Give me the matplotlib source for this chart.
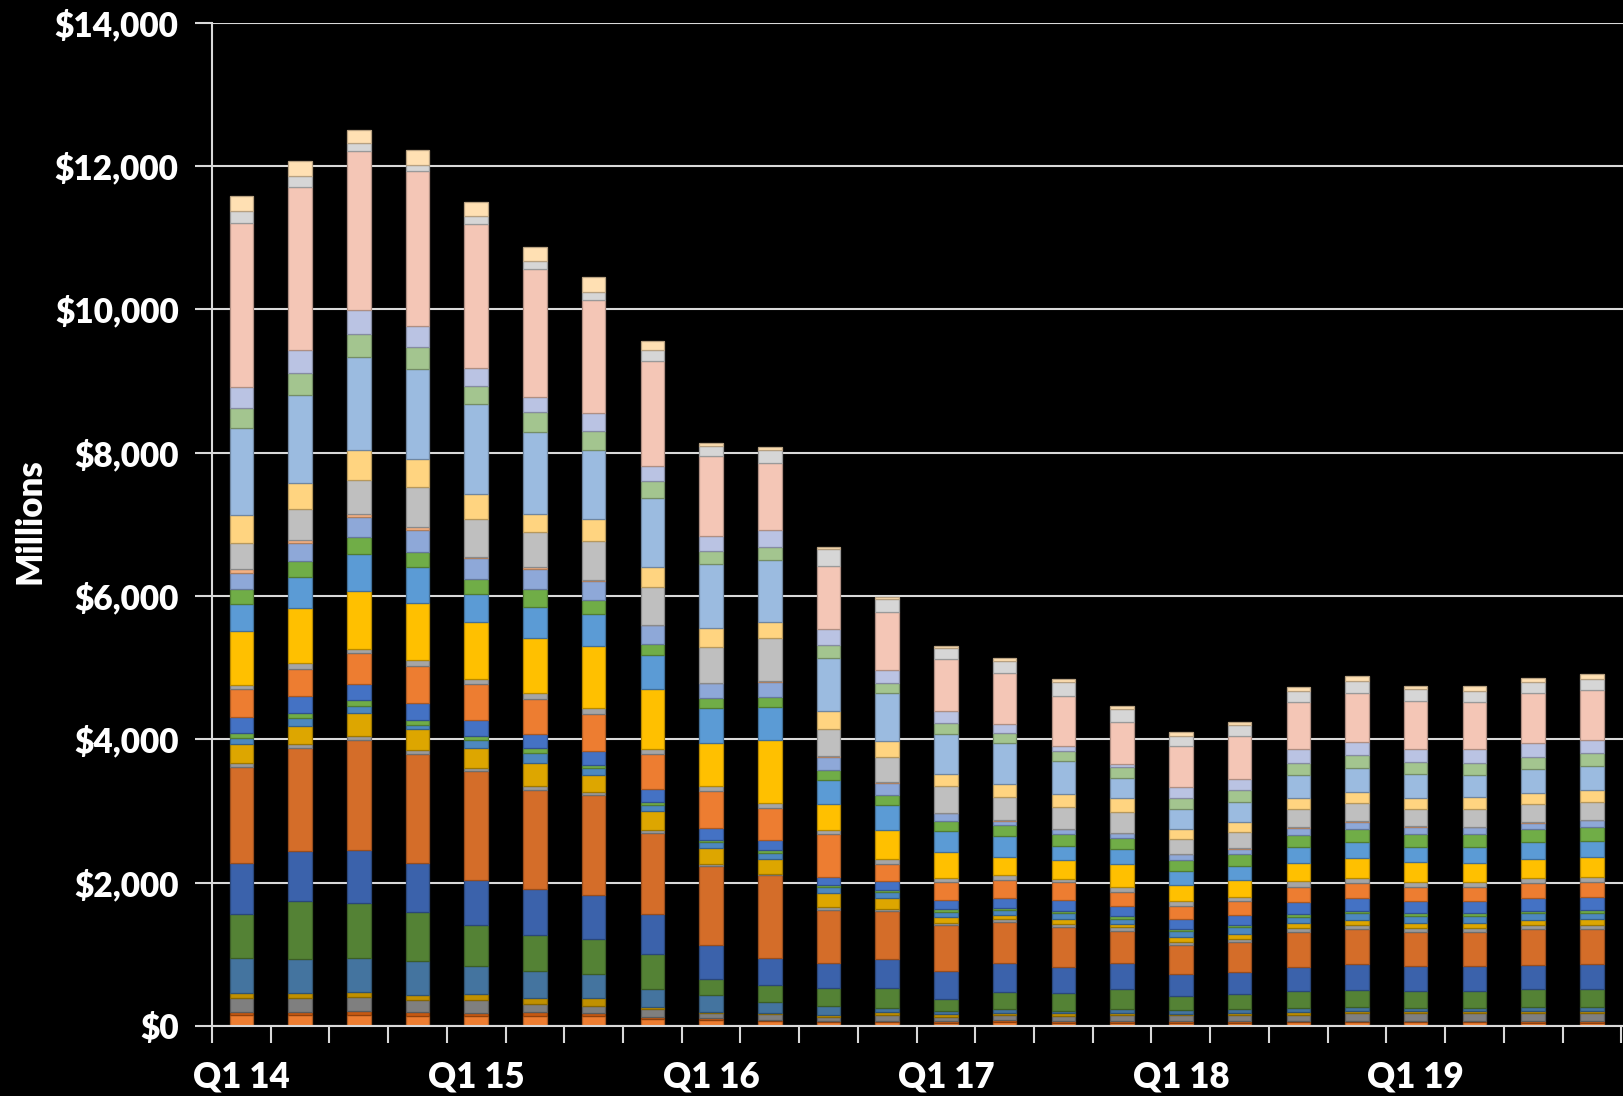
import matplotlib
matplotlib.use("Agg")
import matplotlib.pyplot as plt
import matplotlib.colors as mcolors
from matplotlib.ticker import FuncFormatter, FixedLocator
import numpy as np

plt.rcParams['font.family'] = ['Lato', 'DejaVu Sans']

quarters = ["Q1 14", "Q2 14", "Q3 14", "Q4 14", "Q1 15", "Q2 15", "Q3 15", "Q4 15",
            "Q1 16", "Q2 16", "Q3 16", "Q4 16", "Q1 17", "Q2 17", "Q3 17", "Q4 17",
            "Q1 18", "Q2 18", "Q3 18", "Q4 18", "Q1 19", "Q2 19", "Q3 19", "Q4 19"]

# stacked series, bottom to top (values in $ millions)
s01 = [153, 153, 154, 138, 138, 142, 135, 98, 84, 63, 52, 52, 47, 60, 47, 47, 47, 47, 51, 51, 56, 56, 47, 47]
s02 = [47, 47, 48, 56, 48, 57, 43, 32, 23, 21, 21, 21, 16, 24, 23, 23, 18, 18, 19, 19, 14, 14, 23, 23]
s03 = [186, 195, 203, 170, 178, 114, 107, 107, 78, 84, 53, 84, 68, 65, 70, 79, 84, 84, 88, 107, 116, 116, 107, 107]
s04 = [70, 61, 65, 73, 81, 71, 99, 33, 15, 16, 31, 32, 32, 28, 37, 32, 23, 28, 42, 37, 19, 19, 37, 37]
s05 = [488, 474, 477, 470, 389, 378, 335, 251, 233, 152, 126, 68, 42, 56, 32, 52, 51, 56, 56, 56, 51, 51, 46, 56]
s06 = [619, 819, 770, 680, 575, 512, 498, 484, 223, 236, 252, 278, 173, 246, 247, 288, 200, 209, 232, 232, 232, 232, 252, 242]
s07 = [707, 698, 745, 680, 623, 633, 612, 553, 474, 383, 342, 394, 383, 395, 372, 353, 298, 307, 340, 358, 349, 349, 339, 348]
s08 = [1339, 1437, 1522, 1522, 1531, 1388, 1388, 1130, 1107, 1145, 735, 672, 641, 582, 558, 456, 414, 428, 484, 489, 479, 479, 498, 498]
s09 = [56, 46, 65, 57, 40, 57, 43, 47, 23, 26, 42, 37, 36, 32, 37, 47, 37, 42, 55, 56, 51, 51, 56, 51]
s10 = [265, 261, 323, 292, 276, 321, 235, 265, 228, 210, 204, 147, 84, 56, 75, 51, 75, 65, 75, 74, 75, 75, 74, 79]
s11 = [84, 111, 98, 56, 105, 142, 99, 84, 75, 79, 79, 84, 74, 75, 74, 70, 79, 93, 84, 93, 98, 98, 93, 93]
s12 = [70, 61, 73, 73, 65, 57, 50, 46, 32, 36, 32, 26, 31, 32, 33, 37, 32, 28, 41, 37, 32, 32, 33, 38]
s13 = [232, 246, 226, 243, 226, 199, 199, 172, 163, 142, 115, 126, 126, 130, 153, 144, 140, 144, 168, 172, 168, 168, 176, 176]
s14 = [382, 372, 429, 510, 494, 498, 513, 489, 521, 446, 588, 241, 252, 256, 247, 195, 181, 191, 209, 210, 204, 204, 210, 219]
s15 = [65, 79, 65, 81, 73, 79, 78, 69, 70, 69, 58, 63, 63, 65, 51, 61, 61, 60, 75, 79, 70, 70, 69, 70]
s16 = [753, 768, 810, 802, 794, 768, 868, 847, 595, 876, 372, 405, 357, 261, 260, 321, 232, 237, 260, 270, 270, 265, 270, 279]
s17 = [368, 442, 518, 502, 396, 435, 449, 465, 498, 462, 331, 357, 299, 288, 200, 214, 191, 200, 223, 232, 218, 223, 233, 223]
s18 = [218, 214, 227, 202, 203, 249, 199, 154, 134, 147, 142, 131, 132, 149, 163, 158, 153, 158, 168, 177, 182, 177, 181, 186]
s19 = [224, 256, 283, 316, 291, 277, 264, 265, 205, 205, 184, 178, 110, 65, 70, 60, 79, 79, 97, 102, 97, 93, 93, 98]
s20 = [46, 46, 41, 41, 17, 29, 14, 10, 5, 16, 5, 3, 3, 3, 3, 3, 3, 3, 3, 3, 3, 3, 3, 3]
s21 = [368, 428, 477, 558, 526, 484, 534, 526, 497, 603, 378, 349, 375, 323, 299, 300, 216, 225, 253, 253, 239, 248, 253, 251]
s22 = [386, 367, 413, 389, 356, 256, 306, 279, 270, 226, 257, 226, 168, 181, 182, 190, 139, 149, 163, 163, 163, 167, 163, 172]
s23 = [1223, 1224, 1304, 1255, 1247, 1146, 975, 962, 889, 861, 740, 666, 567, 581, 469, 279, 280, 279, 312, 335, 326, 312, 335, 326]
s24 = [279, 311, 316, 308, 259, 270, 256, 242, 181, 178, 179, 147, 147, 131, 140, 149, 144, 158, 167, 172, 172, 172, 167, 186]
s25 = [288, 321, 332, 291, 251, 214, 256, 210, 219, 242, 215, 184, 168, 130, 65, 47, 158, 159, 195, 190, 186, 186, 195, 186]
s26 = [2289, 2270, 2227, 2162, 2008, 1779, 1573, 1460, 1106, 924, 882, 798, 724, 707, 702, 591, 577, 604, 666, 684, 665, 665, 689, 688]
s27 = [162, 153, 113, 81, 114, 114, 114, 158, 145, 194, 236, 184, 158, 177, 186, 172, 139, 144, 153, 168, 163, 153, 153, 163]
s28 = [214, 205, 178, 211, 194, 206, 206, 116, 46, 42, 37, 37, 31, 42, 42, 51, 47, 47, 56, 60, 51, 65, 65, 65]

series = [s01, s02, s03, s04, s05, s06, s07, s08, s09, s10, s11, s12, s13, s14,
          s15, s16, s17, s18, s19, s20, s21, s22, s23, s24, s25, s26, s27, s28]

colors = ['#ED7D31', '#C65911', '#7F7F7F', '#C09000', '#44749F', '#548235', '#3B62AB',
          '#D46D29', '#9A9A9A', '#DDA600', '#4D88BF', '#70AD47', '#4472C4', '#ED7D31',
          '#A5A5A5', '#FFC000', '#5B9BD5', '#70AD47', '#8EA8D8', '#F4B183', '#BFBFBF',
          '#FFD480', '#9BBBE0', '#A3C58F', '#BAC3E3', '#F4C6B6', '#D6D6D6', '#FFE0B3']

fig = plt.figure(figsize=(16.23, 10.96), dpi=100, facecolor='black')
ax = fig.add_axes([0.1306, 0.0639, 0.8694, 0.9155], facecolor='black')

x = np.arange(len(quarters))
bottom = np.zeros(len(quarters))
for vals, c in zip(series, colors):
    rgb = np.array(mcolors.to_rgb(c))
    edge = tuple(rgb * 0.72)
    ax.bar(x, vals, width=0.4, bottom=bottom, color=c, edgecolor=edge,
           linewidth=0.9, zorder=3)
    bottom += np.array(vals)

ax.set_xlim(-0.5, 23.53)
ax.set_ylim(0, 14000)
ax.set_yticks(np.arange(0, 14001, 2000))
ax.yaxis.set_major_formatter(FuncFormatter(lambda v, p: "${:,.0f}".format(v)))
ax.grid(axis='y', color='#D9D9D9', linewidth=1.5, zorder=0)

# x ticks at category boundaries, labels every fourth quarter
ax.xaxis.set_major_locator(FixedLocator(np.arange(-0.5, 24, 1.0)))
ax.set_xticklabels([])
label_pos = x[::4]
ax.set_xticks(label_pos, minor=True)
ax.set_xticklabels([quarters[i] for i in label_pos], minor=True)
ax.tick_params(axis='x', which='major', length=12, width=1.5, color='#D9D9D9')
ax.tick_params(axis='x', which='minor', length=0, pad=25, labelsize=25,
               labelcolor='white')
for t in ax.get_xticklabels(minor=True):
    t.set_fontweight('heavy')
ax.tick_params(axis='y', length=12, width=1.5, color='#D9D9D9', labelsize=24,
               labelcolor='white', pad=12)
for t in ax.get_yticklabels():
    t.set_fontweight('heavy')

for side in ['top', 'right']:
    ax.spines[side].set_visible(False)
for side in ['left', 'bottom']:
    ax.spines[side].set_color('#D9D9D9')
    ax.spines[side].set_linewidth(1.5)
    ax.spines[side].set_zorder(4)

ax.set_ylabel("Millions", color='white', fontsize=25, fontweight='heavy', labelpad=12)
ax.yaxis.set_label_coords(-0.117, 0.503)

fig.savefig("out.png", dpi=100, facecolor='black')
